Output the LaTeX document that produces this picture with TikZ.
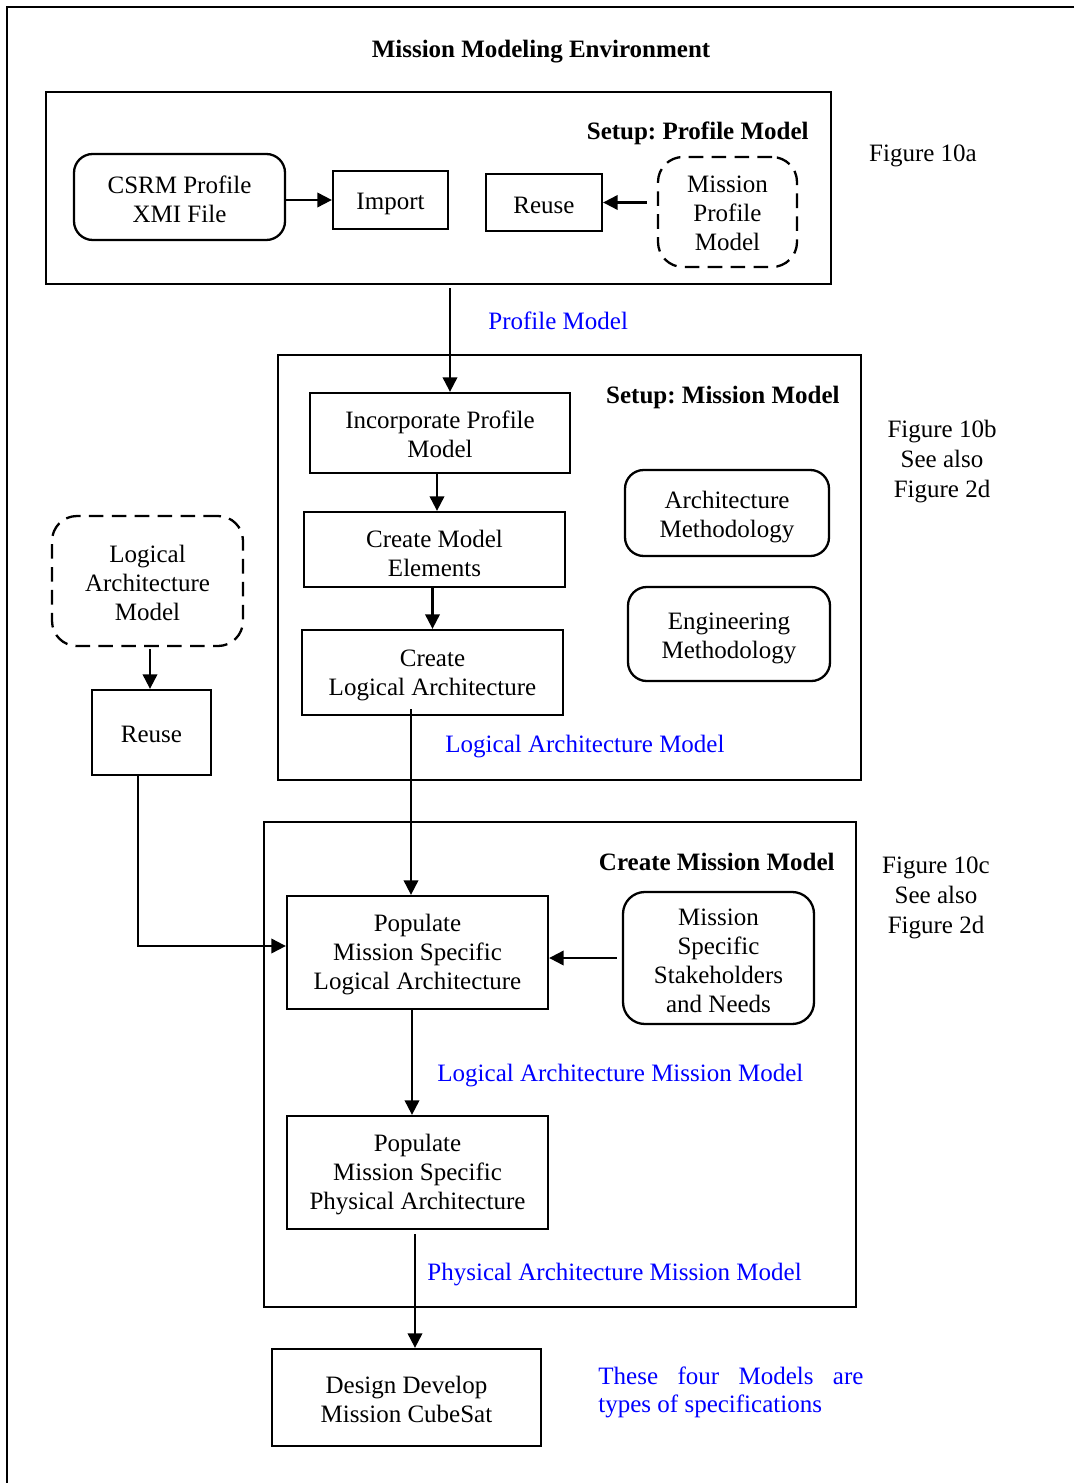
\documentclass[tikz,border=0pt]{standalone}
\usepackage{fontspec}
\setmainfont{Liberation Serif}
\usetikzlibrary{arrows.meta}
\frenchspacing
\def\pxu{0.48pt}
% invisible strut that sets the height of a box's first text line
\newcommand{\lift}[1][10.5pt]{\rule{0pt}{#1}}
\begin{document}
\begin{tikzpicture}[x=0.48pt,y=-0.48pt,
  font=\fontsize{12}{13.9}\selectfont,
  box/.style={draw, line width=1.1pt, inner sep=0pt, align=center},
  rbox/.style={box, rounded corners=9pt},
  dbox/.style={box, rounded corners=12pt, dash pattern=on 7pt off 4pt},
  panel/.style={draw, line width=1.1pt, inner sep=0pt},
  arr/.style={line width=1pt, -{Triangle[length=7pt,width=7pt]}},
  heading/.style={font=\fontsize{12}{13.9}\selectfont\bfseries, inner sep=0pt, anchor=base east},
  flow/.style={text=blue, inner sep=0pt, anchor=base west},
  figref/.style={align=center, inner sep=0pt, font=\fontsize{12}{14.4}\selectfont},
]
\useasboundingbox (0,0) rectangle (1074,1483);

% outer frame
\draw[line width=1.1pt] (1074,7) -- (7,7) -- (7,1483);
\node[font=\fontsize{12}{13.9}\selectfont\bfseries, inner sep=0pt, anchor=base] (envtitle) at (541,58) {Mission Modeling Environment};

% ---- Setup: Profile Model
\node[panel, minimum width=785*\pxu, minimum height=192*\pxu] (boxA) at (438.5,188) {};
\node[heading] (titleA) at (809,140) {Setup: Profile Model};
\node[rbox, minimum width=211*\pxu, minimum height=86*\pxu] (csrm) at (179.5,197) {\lift CSRM Profile\\XMI File};
\node[box, minimum width=115*\pxu, minimum height=58*\pxu] (import) at (390.5,200) {\lift[12pt]Import};
\node[box, minimum width=116*\pxu, minimum height=57*\pxu] (reuseA) at (544,202.5) {\lift Reuse};
\node[dbox, minimum width=139*\pxu, minimum height=110*\pxu] (mpm) at (727.5,212) {\lift[9.4pt]Mission\\Profile\\Model};
\node[inner sep=0pt, anchor=base] (fig10a) at (923,162) {Figure 10a};

\draw[arr] (csrm.east |- import.west) -- (import.west);
\draw[arr, shorten <=4.8pt] (mpm.west |- reuseA.east) -- (reuseA.east);

% ---- Setup: Mission Model
\node[panel, minimum width=583*\pxu, minimum height=425*\pxu] (boxB) at (569.5,567.5) {};
\node[heading] (titleB) at (840,404) {Setup: Mission Model};
\node[box, minimum width=260*\pxu, minimum height=80*\pxu] (incorporate) at (440,433) {\lift[9.4pt]Incorporate Profile\\Model};
\node[box, minimum width=261*\pxu, minimum height=75*\pxu] (cme) at (434.5,549.5) {\lift[12pt]Create Model\\Elements};
\node[box, minimum width=261*\pxu, minimum height=85*\pxu] (cla) at (432.5,672.5) {\lift Create\\Logical Architecture};
\node[rbox, minimum width=204*\pxu, minimum height=86*\pxu] (archm) at (727,513) {\lift[12pt]Architecture\\Methodology};
\node[rbox, minimum width=202*\pxu, minimum height=94*\pxu] (engm) at (729,634) {\lift[12pt]Engineering\\Methodology};
\node[figref] (fig10b) at (942,462) {Figure 10b\\See also\\Figure 2d};

\coordinate (xpm) at (450,0);
\coordinate (xie) at (437,0);
\draw[arr, shorten <=1.4pt] (boxA.south -| xpm) -- (incorporate.north -| xpm);
\node[flow] (lblPM) at (488,330) {Profile Model};
\draw[arr] (incorporate.south -| xie) -- (cme.north -| xie);
\draw[arr] (cme.south -| cla.north) -- (cla.north);
\node[flow] (lblLAM) at (445,752) {Logical Architecture Model};

% ---- reused logical architecture
\node[dbox, minimum width=191*\pxu, minimum height=130*\pxu] (lam) at (147.5,581) {\lift[9.8pt]Logical\\Architecture\\Model};
\node[box, minimum width=119*\pxu, minimum height=85*\pxu] (reuseB) at (151.5,732.5) {\lift[10pt]Reuse};
\coordinate (xla) at (150,0);
\draw[arr, shorten <=1pt] (lam.south -| xla) -- (reuseB.north -| xla);

% ---- Create Mission Model
\node[panel, minimum width=592*\pxu, minimum height=485*\pxu] (boxC) at (560,1064.5) {};
\node[heading] (titleC) at (835,870) {Create Mission Model};
\node[box, minimum width=261*\pxu, minimum height=113*\pxu] (popL) at (417.5,952.5) {\lift Populate\\Mission Specific\\Logical Architecture};
\node[rbox, rounded corners=10.5pt, minimum width=191*\pxu, minimum height=132*\pxu] (mssn) at (718.5,958) {\lift Mission\\Specific\\Stakeholders\\and Needs};
\node[box, minimum width=261*\pxu, minimum height=113*\pxu] (popP) at (417.5,1172.5) {\lift Populate\\Mission Specific\\Physical Architecture};
\node[figref] (fig10c) at (936,898) {Figure 10c\\See also\\Figure 2d};

\coordinate (xcl) at (411,0);
\coordinate (xlp) at (412,0);
\coordinate (xpd) at (415,0);
\coordinate (xrb) at (138,0);
\coordinate (yrb) at (0,946);
\draw[arr] ([yshift=3.4pt]cla.south -| xcl) -- (popL.north -| xcl);
\draw[arr] (reuseB.south -| xrb) |- (popL.west |- yrb);
\draw[arr, shorten <=2.4pt] (mssn.west) -- (popL.east |- mssn.west);
\draw[arr] (popL.south -| xlp) -- (popP.north -| xlp);
\node[flow] (lblLAMM) at (437,1081) {Logical Architecture Mission Model};
\node[flow] (lblPAMM) at (427,1280) {Physical Architecture Mission Model};

% ---- downstream
\node[box, minimum width=269*\pxu, minimum height=97*\pxu] (design) at (406.5,1397.5) {\lift Design Develop\\Mission CubeSat};
\draw[arr, shorten <=2pt] (popP.south -| xpd) -- (design.north -| xpd);
\node[text=blue, inner sep=0pt, align=left, anchor=north west] (note) at (598,1366)
  {\makebox[127.2pt][s]{These four Models are}\\types of specifications};

\end{tikzpicture}
\end{document}
